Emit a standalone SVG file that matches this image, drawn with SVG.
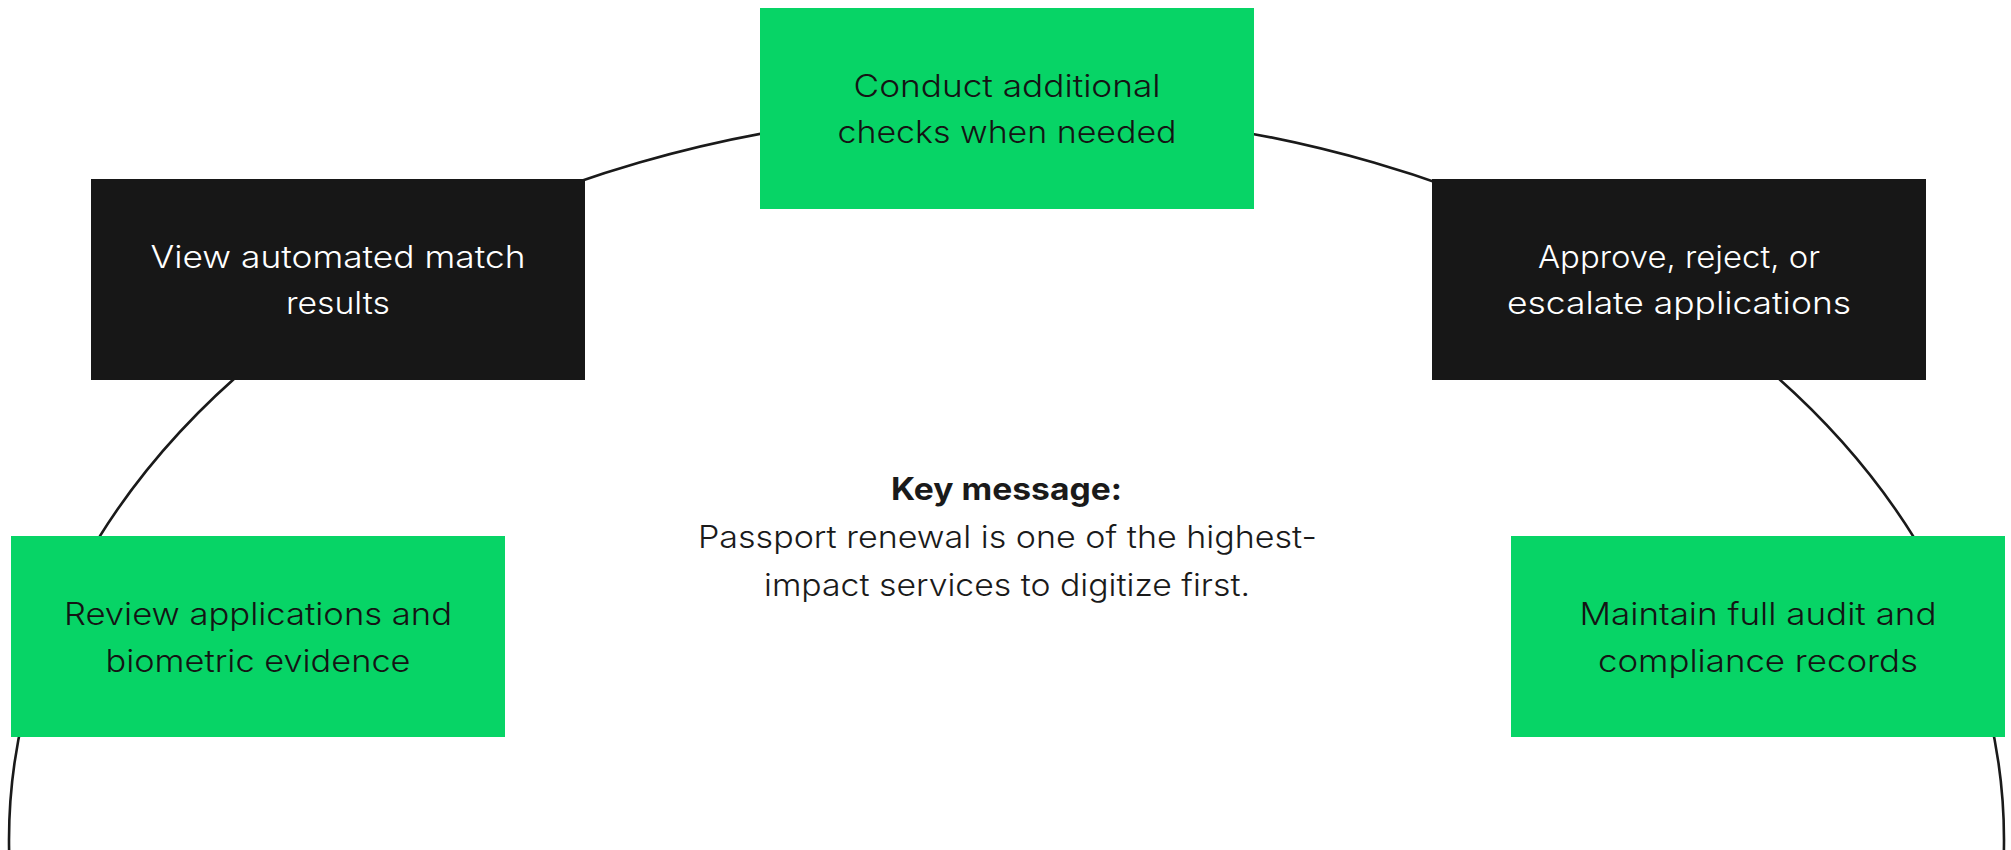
<svg xmlns="http://www.w3.org/2000/svg" width="2011" height="850" viewBox="0 0 2011 850">
<style>
.bg{fill:#ffffff}
.ring{fill:none;stroke:#1a1a1a;stroke-width:2.6}
.green{fill:#07d466}
.dark{fill:#171717}
.t{font-family:Inter,"Open Sans","Liberation Sans",sans-serif;font-weight:300;font-size:31px;text-anchor:middle}
.tg{fill:#141414}
.tw{fill:#ffffff}
.key{font-family:Inter,"Open Sans","Liberation Sans",sans-serif;font-weight:700;font-size:31px;text-anchor:middle;fill:#1a1a1a}
.msg{font-family:Inter,"Open Sans","Liberation Sans",sans-serif;font-weight:300;font-size:31px;text-anchor:middle;fill:#1a1a1a}
</style>
<rect class="bg" x="0" y="0" width="2011" height="850"/>
<g id="connectors">
<ellipse class="ring" cx="1006.5" cy="840" rx="997.5" ry="728.6"/>
</g>
<g id="node-conduct">
<rect class="green" x="760" y="8" width="494" height="201"/>
<text class="t tg" x="1007" y="97" textLength="307" lengthAdjust="spacingAndGlyphs">Conduct additional</text>
<text class="t tg" x="1007" y="143" textLength="339" lengthAdjust="spacingAndGlyphs">checks when needed</text>
</g>
<g id="node-view">
<rect class="dark" x="91" y="179" width="494" height="201"/>
<text class="t tw" x="338" y="268" textLength="375" lengthAdjust="spacingAndGlyphs">View automated match</text>
<text class="t tw" x="338" y="314" textLength="104" lengthAdjust="spacingAndGlyphs">results</text>
</g>
<g id="node-approve">
<rect class="dark" x="1432" y="179" width="494" height="201"/>
<text class="t tw" x="1679" y="268" textLength="282" lengthAdjust="spacingAndGlyphs">Approve, reject, or</text>
<text class="t tw" x="1679" y="314" textLength="344" lengthAdjust="spacingAndGlyphs">escalate applications</text>
</g>
<g id="node-review">
<rect class="green" x="11" y="536" width="494" height="201"/>
<text class="t tg" x="258" y="625" textLength="388" lengthAdjust="spacingAndGlyphs">Review applications and</text>
<text class="t tg" x="258" y="672" textLength="305" lengthAdjust="spacingAndGlyphs">biometric evidence</text>
</g>
<g id="node-maintain">
<rect class="green" x="1511" y="536" width="494" height="201"/>
<text class="t tg" x="1758" y="625" textLength="357" lengthAdjust="spacingAndGlyphs">Maintain full audit and</text>
<text class="t tg" x="1758" y="672" textLength="320" lengthAdjust="spacingAndGlyphs">compliance records</text>
</g>
<g id="key-message">
<text class="key" x="1006.5" y="500" textLength="231" lengthAdjust="spacingAndGlyphs">Key message:</text>
<text class="msg" x="1007.5" y="548" textLength="619" lengthAdjust="spacingAndGlyphs">Passport renewal is one of the highest-</text>
<text class="msg" x="1007" y="596" textLength="486" lengthAdjust="spacingAndGlyphs">impact services to digitize first.</text>
</g>
</svg>
